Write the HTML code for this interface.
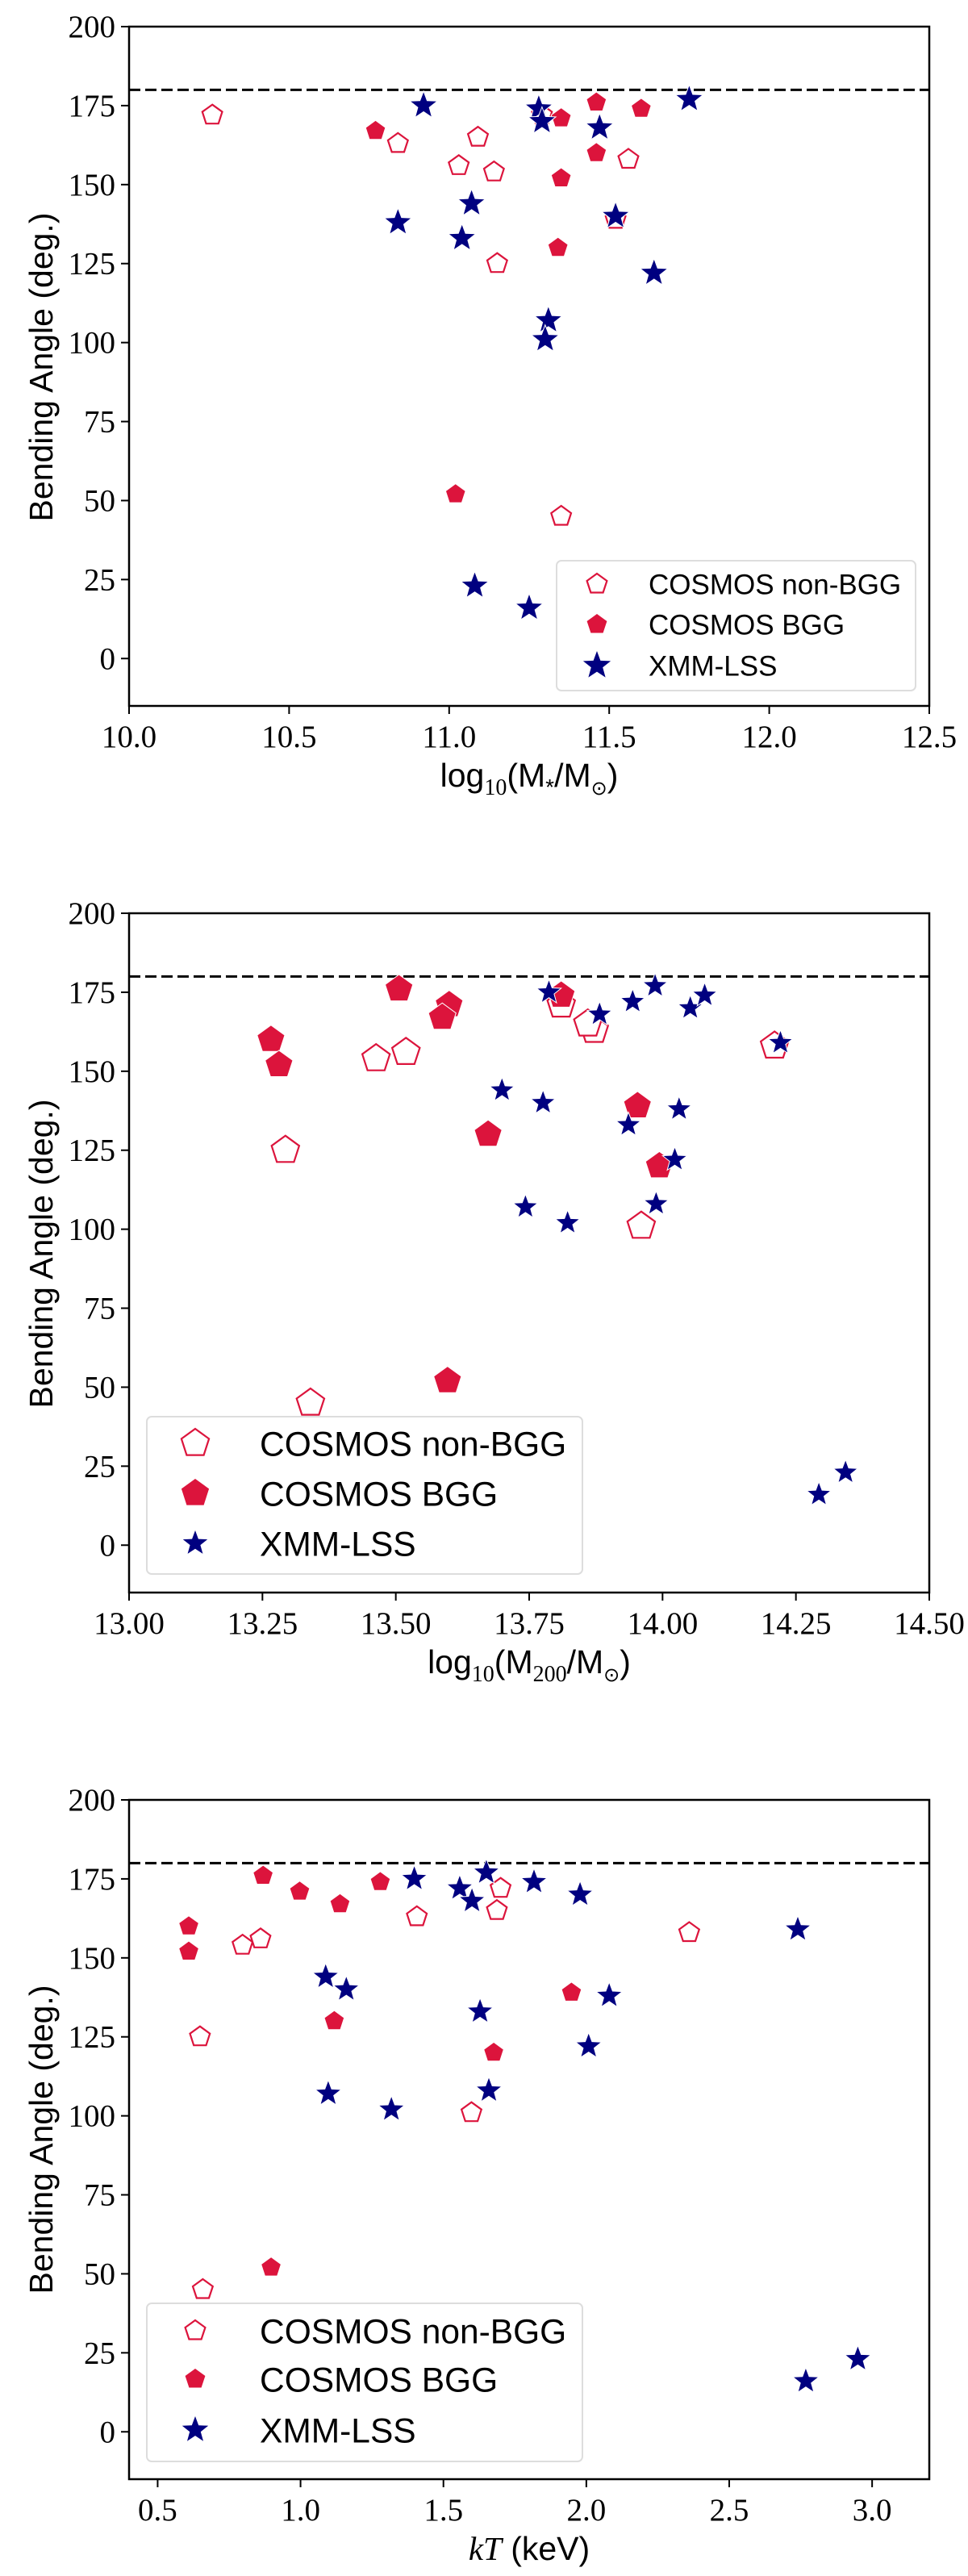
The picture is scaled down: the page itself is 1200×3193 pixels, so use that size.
<!DOCTYPE html>
<html><head><meta charset="utf-8">
<style>
html,body{margin:0;padding:0;background:#fff;}
svg{display:block;}
text{font-family:"Liberation Sans",sans-serif;}
.tick{font-family:"Liberation Serif",serif;font-size:39px;}
</style></head>
<body>
<svg id="fig" width="1200" height="3193" viewBox="0 0 1200 3193" xmlns="http://www.w3.org/2000/svg"></svg>
<script>
// ---- Panel 1 data: stellar mass ----
const p1NonX = [10.26,10.84,11.09,11.03,11.14,11.56,11.15,11.35,11.52,11.29];
const p1NonY = [172,163,165,156,154,158,125,45,139,172];
const p1BggX = [10.77,11.46,11.60,11.35,11.46,11.35,11.34,11.02];
const p1BggY = [167,176,174,171,160,152,130,52];
const p1XmmX = [10.92,11.28,11.29,11.47,11.75,11.07,10.84,11.04,11.52,11.64,11.31,11.30,11.08,11.25];
const p1XmmY = [175,174,170,168,177,144,138,133,140,122,107,101,23,16];
const p1XTicks = ["10.0","10.5","11.0","11.5","12.0","12.5"];
// ---- Panel 2 data: halo mass ----
const p2NonX = [13.463,13.519,13.293,13.340,13.81,13.872,13.86,13.96,14.21];
const p2NonY = [154,156,125,45,171,163,165,101,158];
const p2BggX = [13.506,13.60,13.587,13.266,13.281,13.673,13.597,13.81,13.953,13.994];
const p2BggY = [176,171,167,160,152,130,52,174,139,120];
const p2XmmX = [13.787,13.882,13.944,13.986,14.052,14.079,14.221,13.699,13.776,13.936,14.031,14.023,13.743,13.822,13.988,14.293,14.343];
const p2XmmY = [175,168,172,177,170,174,159,144,140,133,138,122,107,102,108,16,23];
const p2XTicks = ["13.00","13.25","13.50","13.75","14.00","14.25","14.50"];
// ---- Panel 3 data: temperature ----
const p3NonX = [0.648,0.658,0.797,0.860,1.407,1.700,1.687,1.598,2.360];
const p3NonY = [125,45,154,156,163,172,165,101,158];
const p3BggX = [0.609,0.609,0.869,0.997,1.138,1.279,1.118,0.897,1.948,1.676];
const p3BggY = [160,152,176,171,167,174,130,52,139,120];
const p3XmmX = [1.398,1.557,1.600,1.650,1.817,1.978,2.740,1.088,1.160,1.628,2.080,2.008,1.097,1.318,1.659,2.768,2.950];
const p3XmmY = [175,172,168,177,174,170,159,144,140,133,138,122,107,102,108,16,23];
const p3XTicks = ["0.5","1.0","1.5","2.0","2.5","3.0"];
const yTicks = [0,25,50,75,100,125,150,175,200];

const NS="http://www.w3.org/2000/svg";
const svg=document.getElementById('fig');
function mk(tag,attrs,parent){const e=document.createElementNS(NS,tag);for(const k in attrs)e.setAttribute(k,attrs[k]);(parent||svg).appendChild(e);return e;}
function pent(cx,cy,r){let p=[];for(let i=0;i<5;i++){const a=-Math.PI/2+i*2*Math.PI/5;p.push((cx+r*Math.cos(a)).toFixed(1)+','+(cy+r*Math.sin(a)).toFixed(1));}return p.join(' ');}
function star(cx,cy,r){let p=[];for(let i=0;i<10;i++){const a=-Math.PI/2+i*Math.PI/5;const rr=i%2?r*0.42:r;p.push((cx+rr*Math.cos(a)).toFixed(1)+','+(cy+rr*Math.sin(a)).toFixed(1));}return p.join(' ');}

function panel(cfg){
  const L=160,R=1152,T=cfg.top,B=cfg.top+842;
  const x=v=>L+(v-cfg.xmin)/(cfg.xmax-cfg.xmin)*(R-L);
  const y=v=>B-(v-(-15))/(215)*(B-T);
  const g=mk('g',{});
  
  
  yTicks.forEach(v=>{
    const t=mk('line',{x1:L-10,x2:L,y1:y(v),y2:y(v),stroke:'#000','stroke-width':2},g);
    
    const lb=mk('text',{x:L-17,y:y(v)+13,'text-anchor':'end',class:'tick'},g);
    
    lb.textContent=v;
  });
  cfg.xticks.forEach(s=>{
    const v=parseFloat(s);
    const t=mk('line',{x1:x(v),x2:x(v),y1:B,y2:B+10,stroke:'#000','stroke-width':2},g);
    
    const lb=mk('text',{x:x(v),y:B+51,'text-anchor':'middle',class:'tick'},g);
    
    lb.textContent=s;
  });
  const d=mk('line',{x1:L,x2:R,y1:y(180),y2:y(180),stroke:'#000','stroke-width':3,'stroke-dasharray':'14 6'},g);
  
  cfg.nonX.forEach((v,i)=>{
    const m=mk('polygon',{points:pent(x(v),y(cfg.nonY[i]),cfg.pr),fill:'#fff',stroke:'#dc143c','stroke-width':2.2},g);
    
  });
  cfg.bggX.forEach((v,i)=>{
    const m=mk('polygon',{points:pent(x(v),y(cfg.bggY[i]),cfg.pr),fill:'#dc143c',stroke:'#fff','stroke-width':1},g);
    
  });
  cfg.xmmX.forEach((v,i)=>{
    const m=mk('polygon',{points:star(x(v),y(cfg.xmmY[i]),cfg.sr),fill:'#000080',stroke:'#fff','stroke-width':1},g);
    
  });
  const f=mk('rect',{x:L,y:T,width:R-L,height:B-T,fill:'none',stroke:'#000','stroke-width':2.5},g);
  
  const yl=mk('text',{x:0,y:0,'text-anchor':'middle','font-size':41,transform:`translate(65,${cfg.ylc}) rotate(-90)`},g);
  
  yl.textContent='Bending Angle (deg.)';
  const xl=mk('text',{x:656,y:B+100,'text-anchor':'middle','font-size':41},g);
  
  xl.innerHTML=cfg.xlabel;
  const lg=cfg.leg;
  const lgG=mk('g',{},g);
  
  mk('rect',{x:lg.x1,y:lg.y1,width:lg.x2-lg.x1,height:lg.y2-lg.y1,rx:6,fill:'#fff','fill-opacity':0.85,stroke:'#ddd','stroke-width':2},lgG);
  const labels=['COSMOS non-BGG','COSMOS BGG','XMM-LSS'];
  labels.forEach((s,i)=>{
    const cy=lg.rows[i];
    let m;
    if(i==0)m=mk('polygon',{points:pent(lg.mx,cy,lg.pr),fill:'#fff',stroke:'#dc143c','stroke-width':2.2},lgG);
    else if(i==1)m=mk('polygon',{points:pent(lg.mx,cy,lg.pr),fill:'#dc143c'},lgG);
    else m=mk('polygon',{points:star(lg.mx,cy,cfg.sr),fill:'#000080'},lgG);
    
    const t=mk('text',{x:lg.tx,y:cy+lg.fs*0.36,'font-size':lg.fs},lgG);
    
    t.textContent=s;
  });
}

panel({name:'stellar-mass-panel',top:33,xmin:10,xmax:12.5,xticks:p1XTicks,
  nonX:p1NonX,nonY:p1NonY,bggX:p1BggX,bggY:p1BggY,xmmX:p1XmmX,xmmY:p1XmmY,pr:13,sr:18,ylc:455,
  xlabel:'log<tspan font-family="Liberation Serif" font-size="28" dy="10">10</tspan><tspan dy="-10">(M</tspan><tspan font-size="28" dy="10">*</tspan><tspan dy="-10">/M</tspan><tspan font-family="DejaVu Sans" font-size="24" dy="10">⊙</tspan><tspan dy="-10">)</tspan>',
  leg:{x1:690,x2:1135,y1:695,y2:856,rows:[724,774,825],mx:740,tx:804,fs:35,pr:13}});
panel({name:'halo-mass-panel',top:1132,xmin:13,xmax:14.5,xticks:p2XTicks,
  nonX:p2NonX,nonY:p2NonY,bggX:p2BggX,bggY:p2BggY,xmmX:p2XmmX,xmmY:p2XmmY,pr:18,sr:16,ylc:1554,
  xlabel:'log<tspan font-family="Liberation Serif" font-size="28" dy="10">10</tspan><tspan dy="-10">(M</tspan><tspan font-family="Liberation Serif" font-size="28" dy="10">200</tspan><tspan dy="-10">/M</tspan><tspan font-family="DejaVu Sans" font-size="24" dy="10">⊙</tspan><tspan dy="-10">)</tspan>',
  leg:{x1:182,x2:722,y1:1756,y2:1951,rows:[1789,1851,1913],mx:242,tx:322,fs:42.5,pr:18}});
panel({name:'temperature-panel',top:2231,xmin:0.4,xmax:3.2,xticks:p3XTicks,
  nonX:p3NonX,nonY:p3NonY,bggX:p3BggX,bggY:p3BggY,xmmX:p3XmmX,xmmY:p3XmmY,pr:13,sr:17,ylc:2652,
  xlabel:'<tspan font-family="Liberation Serif" font-style="italic">kT</tspan> (keV)',
  leg:{x1:182,x2:722,y1:2855,y2:3051,rows:[2889,2949,3012],mx:242,tx:322,fs:42.5,pr:13}});
</script>
</body></html>
